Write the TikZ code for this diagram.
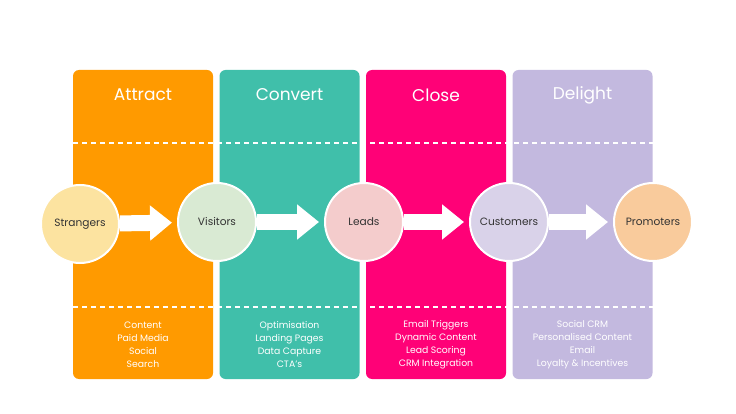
\documentclass[tikz,border=0pt]{standalone}
\usepackage{fontspec}
\setmainfont{Poppins}
\usetikzlibrary{arrows.meta}
\usetikzlibrary{positioning}

\definecolor{attractc}{HTML}{FF9A00}
\definecolor{convertc}{HTML}{40BFAA}
\definecolor{closec}{HTML}{FF0177}
\definecolor{delightc}{HTML}{C3B9DF}
\definecolor{strangersc}{HTML}{FCE3A0}
\definecolor{visitorsc}{HTML}{D9EAD3}
\definecolor{leadsc}{HTML}{F4CCCC}
\definecolor{customersc}{HTML}{D9D2E9}
\definecolor{promotersc}{HTML}{F9CB9C}
\definecolor{inkc}{HTML}{333333}

\tikzset{
  stage/.style={rounded corners=6pt, minimum width=140pt, minimum height=309pt, inner sep=0pt},
  stagetitle/.style={text=white, font=\fontsize{17}{18}\selectfont},
  stagelist/.style={text=white, align=center, font=\fontsize{9.3}{13}\selectfont},
  person/.style={circle, draw=white, line width=2pt, minimum size=78pt, inner sep=0pt,
    text=inkc, font=\fontsize{10.6}{12}\selectfont},
  flow/.style={draw=white, line width=16pt, -{Triangle[length=22pt,width=34pt]}, shorten >=5pt},
  divider/.style={white, line width=1.2pt, dash pattern=on 5pt off 4pt}
}

\begin{document}
\begin{tikzpicture}[x=1pt,y=-1pt]
\useasboundingbox (0,0) rectangle (736,414);

% stages
\foreach \n/\x/\col/\name in {1/73/attractc/Attract,2/219.5/convertc/Convert,3/366/closec/Close,4/512.5/delightc/Delight} {
 \node[stage, fill=\col] (col\n) at (\x+70,224.5) {};
 \node[stagetitle] (title\n) at (\x+70,95) {\name};
}

\draw[divider] (73,143) -- (653,143);
\draw[divider] (73,307) -- (653,307);

\node[stagelist] (list1) at (col1 |- 0,344.5) {Content\\Paid Media\\Social\\Search};
\node[stagelist] (list2) at (col2 |- 0,344.5) {Optimisation\\Landing Pages\\Data Capture\\CTA's};
\node[stagelist] (list3) at (col3 |- 0,344.5) {Email Triggers\\Dynamic Content\\Lead Scoring\\CRM Integration};
\node[stagelist] (list4) at (col4 |- 0,344.5) {Social CRM\\Personalised Content\\Email\\Loyalty \& Incentives};

% people
\node[person, fill=strangersc] (strangers) at (80,224) {Strangers};
\node[person, fill=visitorsc] (visitors) at (217,222) {Visitors};
\node[person, fill=leadsc] (leads) at (364,222) {Leads};
\node[person, fill=customersc] (customers) at (509,222) {Customers};
\node[person, fill=promotersc] (promoters) at (653,222) {Promoters};

\draw[flow] (strangers) -- (visitors);
\draw[flow] (visitors) -- (leads);
\draw[flow] (leads) -- (customers);
\draw[flow] (customers) -- (promoters);

\end{tikzpicture}
\end{document}
